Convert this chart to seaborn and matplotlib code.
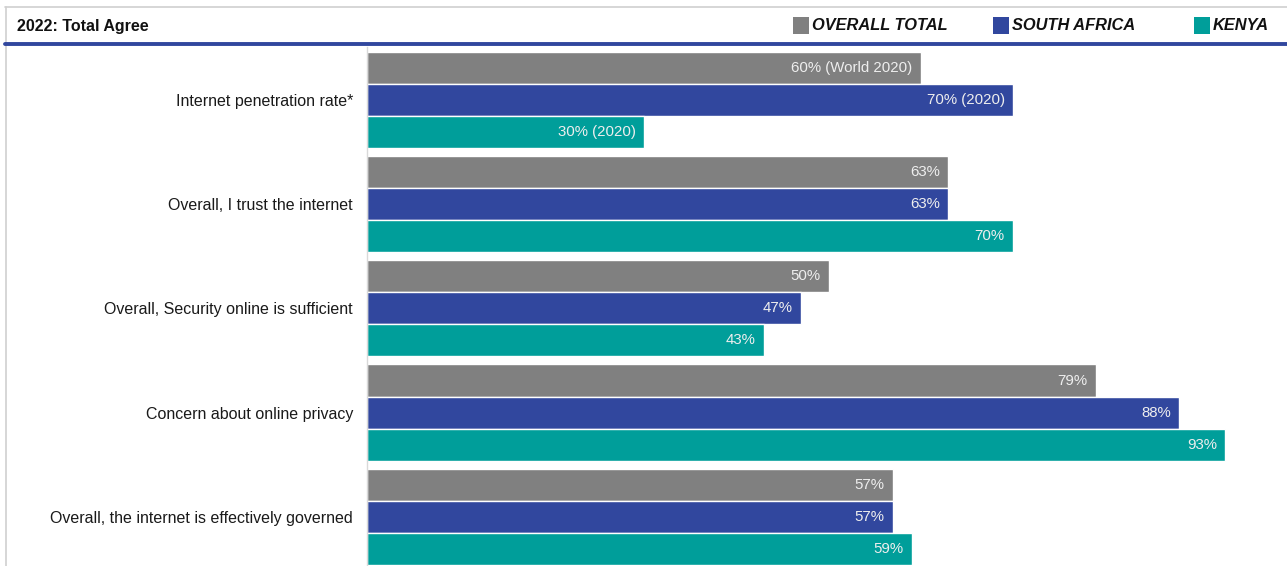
import matplotlib
matplotlib.use("Agg")
import matplotlib.pyplot as plt
from matplotlib.patches import Rectangle
from matplotlib.lines import Line2D
import pandas as pd
import seaborn as sns

categories = ["Internet penetration rate*",
              "Overall, I trust the internet",
              "Overall, Security online is sufficient",
              "Concern about online privacy",
              "Overall, the internet is effectively governed"]
series = ["OVERALL TOTAL", "SOUTH AFRICA", "KENYA"]
overall_total = [60, 63, 50, 79, 57]
south_africa = [70, 63, 47, 88, 57]
kenya = [30, 70, 43, 93, 59]
overall_labels = ["60% (World 2020)", "63%", "50%", "79%", "57%"]
south_africa_labels = ["70% (2020)", "63%", "47%", "88%", "57%"]
kenya_labels = ["30% (2020)", "70%", "43%", "93%", "59%"]
colors = ["#808080", "#31479E", "#009E9A"]

rows = []
for s, vals in zip(series, [overall_total, south_africa, kenya]):
    for c, v in zip(categories, vals):
        rows.append({"category": c, "series": s, "value": v})
df = pd.DataFrame(rows)

sns.set_style("white")
plt.rcParams["font.family"] = ["Liberation Sans", "DejaVu Sans"]

W, H = 1287, 566
fig = plt.figure(figsize=(W / 100, H / 100), dpi=100)

ax_top, ax_bot = 47.5, 566
ax = fig.add_axes([367 / W, 1 - ax_bot / H, (W - 367) / W, (ax_bot - ax_top) / H])
sns.barplot(data=df, x="value", y="category", hue="series", orient="h",
            palette=colors, width=0.923, gap=0, saturation=1, legend=False, ax=ax)

ax.set_xlim(0, (W - 367) / 9.23)
ax.set_ylim(4.47, -0.5)
ax.set_xlabel("")
ax.set_ylabel("")
ax.set_xticks([])
ax.tick_params(axis="y", length=0, pad=10, labelsize=11.5, labelcolor="#1a1a1a")
for sp in ["top", "right", "bottom"]:
    ax.spines[sp].set_visible(False)
ax.spines["left"].set_color("#D9D9D9")
ax.spines["left"].set_linewidth(1)

for cont, labs in zip(ax.containers, [overall_labels, south_africa_labels, kenya_labels]):
    for bar, lab in zip(cont, labs):
        ax.annotate(lab, (bar.get_width(), bar.get_y() + bar.get_height() / 2),
                    xytext=(-6, 0), textcoords="offset points", ha="right", va="center",
                    color="#EEEEEE", fontsize=10.8)

# frame, header and legend
def fx(px):
    return px / W

def fy(py):
    return 1 - py / H

fig.add_artist(Line2D([fx(5), fx(W)], [fy(6.5), fy(6.5)], color="#D0D0D0", lw=1.2))
fig.add_artist(Line2D([fx(5.5), fx(5.5)], [fy(6.5), fy(H)], color="#D0D0D0", lw=1.2))
fig.add_artist(Line2D([fx(5), fx(W)], [fy(43.5), fy(43.5)], color="#31479E", lw=2.8))
fig.text(fx(17), fy(26), "2022: Total Agree", fontsize=11.5, fontweight="bold",
         va="center", ha="left", color="#111111")

legend_x = [793, 993, 1194]
for lx, name, col in zip(legend_x, series, colors):
    fig.add_artist(Rectangle((fx(lx), fy(34)), 16 / W, 17 / H, color=col, lw=0))
    fig.text(fx(lx + 19), fy(26), name, fontsize=11.8, fontweight="bold",
             fontstyle="italic", va="center", ha="left", color="#111111")

fig.savefig("out.png", dpi=100)
